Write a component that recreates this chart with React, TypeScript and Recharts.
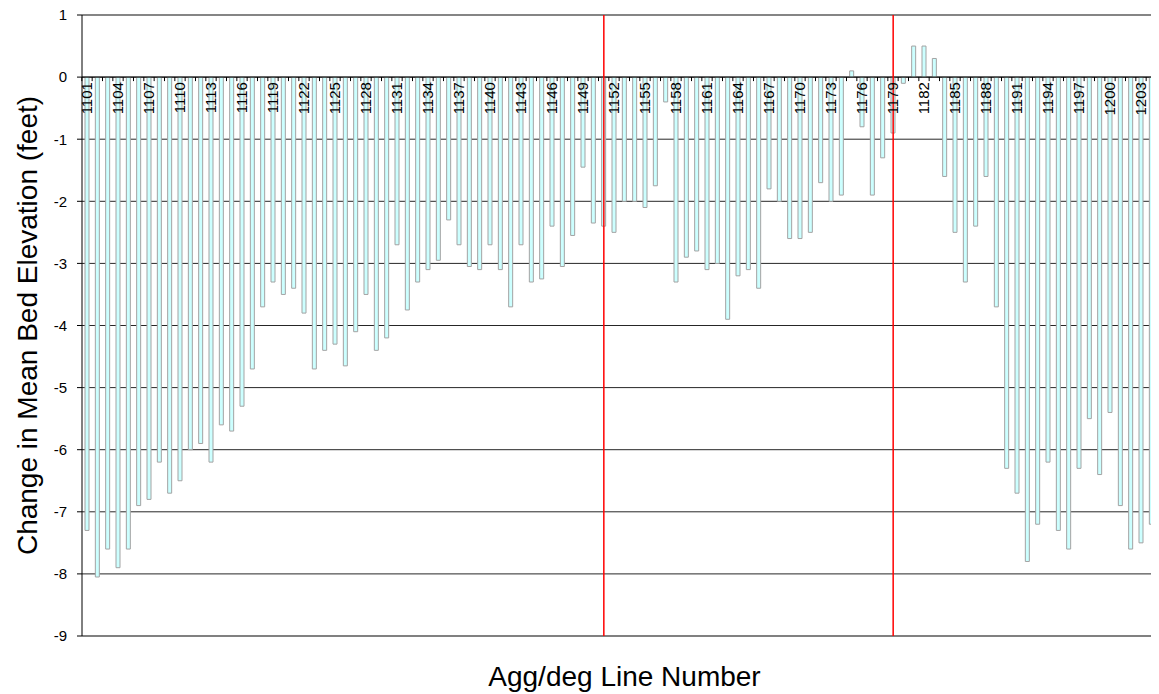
import { Bar, BarChart, CartesianGrid, LabelList, ReferenceLine, XAxis, YAxis } from "recharts";

const lineNumbers = [
  "1101", "1102", "1103", "1104", "1105", "1106", "1107", "1108", "1109", "1110",
  "1111", "1112", "1113", "1114", "1115", "1116", "1117", "1118", "1119", "1120",
  "1121", "1122", "1123", "1124", "1125", "1126", "1127", "1128", "1129", "1130",
  "1131", "1132", "1133", "1134", "1135", "1136", "1137", "1138", "1139", "1140",
  "1141", "1142", "1143", "1144", "1145", "1146", "1147", "1148", "1149", "1150",
  "1151", "1152", "1153", "1154", "1155", "1156", "1157", "1158", "1159", "1160",
  "1161", "1162", "1163", "1164", "1165", "1166", "1167", "1168", "1169", "1170",
  "1171", "1172", "1173", "1174", "1175", "1176", "1177", "1178", "1179", "1180",
  "1181", "1182", "1183", "1184", "1185", "1186", "1187", "1188", "1189", "1190",
  "1191", "1192", "1193", "1194", "1195", "1196", "1197", "1198", "1199", "1200",
  "1201", "1202", "1203", "1204", "1205",
];

const elevationChange = [
  -7.3, -8.05, -7.6, -7.9, -7.6, -6.9, -6.8, -6.2, -6.7, -6.5,
  -6.0, -5.9, -6.2, -5.6, -5.7, -5.3, -4.7, -3.7, -3.3, -3.5,
  -3.4, -3.8, -4.7, -4.4, -4.3, -4.65, -4.1, -3.5, -4.4, -4.2,
  -2.7, -3.75, -3.3, -3.1, -2.95, -2.3, -2.7, -3.05, -3.1, -2.7,
  -3.1, -3.7, -2.7, -3.3, -3.25, -2.4, -3.05, -2.55, -1.45, -2.35,
  -2.4, -2.5, -2.0, -2.0, -2.1, -1.75, -0.4, -3.3, -2.9, -2.8,
  -3.1, -3.0, -3.9, -3.2, -3.1, -3.4, -1.8, -2.0, -2.6, -2.6,
  -2.5, -1.7, -2.0, -1.9, 0.1, -0.8, -1.9, -1.3, -0.9, -0.1,
  0.5, 0.5, 0.3, -1.6, -2.5, -3.3, -2.4, -1.6, -3.7, -6.3,
  -6.7, -7.8, -7.2, -6.2, -7.3, -7.6, -6.3, -5.5, -6.4, -5.4,
  -6.9, -7.6, -7.5, -7.2, -6.7,
];

const yTicks = [-9, -8, -7, -6, -5, -4, -3, -2, -1, 0, 1];
const dividerLines = ["1151", "1179"];

const data = lineNumbers.map((line, i) => ({ line, change: elevationChange[i] }));

const CHART_W = 1159;
const CHART_H = 694;
const Y_AXIS_W = 74;
const BAND = (CHART_W - Y_AXIS_W) / lineNumbers.length;

// labels + small ticks hang off the zero line, Excel style
function ZeroLineLabel(props: any) {
  const vb = props.viewBox ?? props;
  const x = Number(vb.x);
  const y = Number(vb.y);
  const w = Number(vb.width);
  const h = Number(vb.height);
  const v = elevationChange[props.index];
  const zeroY = v >= 0 ? Math.max(y, y + h) : Math.min(y, y + h);
  const cx = x + w / 2;
  const tickX = cx - BAND / 2;
  const ty = zeroY + 5;
  return (
    <g>
      <line x1={tickX} x2={tickX} y1={zeroY} y2={zeroY + 4} stroke="#000" strokeWidth={1} />
      {props.index % 3 === 0 && (
        <text
          x={cx}
          y={ty}
          transform={`rotate(-90, ${cx}, ${ty})`}
          textAnchor="end"
          dominantBaseline="central"
          fontSize={15}
          fill="#000"
        >
          {props.value}
        </text>
      )}
    </g>
  );
}

export default function App() {
  return (
    <div
      style={{
        width: 1151,
        height: CHART_H,
        marginTop: -8,
        overflow: "hidden",
        fontFamily: "'Liberation Sans', Arial, sans-serif",
      }}
    >
      <BarChart width={CHART_W} height={CHART_H} data={data} margin={{ top: 15, right: 0, left: 0, bottom: 0 }}>
        <CartesianGrid vertical={false} stroke="#000" strokeOpacity={0.85} />
        <XAxis
          dataKey="line"
          height={58}
          tick={false}
          axisLine={false}
          tickLine={false}
          label={{ value: "Agg/deg Line Number", position: "insideBottom", offset: 8, fontSize: 28, fill: "#000" }}
        />
        <YAxis
          width={Y_AXIS_W}
          domain={[-9, 1]}
          ticks={yTicks}
          interval={0}
          allowDataOverflow
          tick={{ fontSize: 15, fill: "#000" }}
          tickSize={5}
          tickMargin={10}
          axisLine={{ stroke: "#000" }}
          tickLine={{ stroke: "#000" }}
          label={{
            value: "Change in Mean Bed Elevation (feet)",
            angle: -90,
            position: "insideLeft",
            offset: 19,
            fontSize: 28,
            fill: "#000",
            style: { textAnchor: "middle" },
          }}
        />
        <ReferenceLine y={1} stroke="#808080" strokeWidth={1.5} />
        <ReferenceLine y={-9} stroke="#808080" strokeWidth={2} />
        <Bar dataKey="change" fill="#CCFFFF" stroke="#a3a3a3" strokeWidth={1} barSize={4} isAnimationActive={false}>
          <LabelList dataKey="line" content={ZeroLineLabel} />
        </Bar>
        <ReferenceLine y={0} stroke="#000" strokeWidth={1} />
        {dividerLines.map((l) => (
          <ReferenceLine key={l} x={l} stroke="#ff0000" strokeWidth={1.5} />
        ))}
      </BarChart>
    </div>
  );
}
